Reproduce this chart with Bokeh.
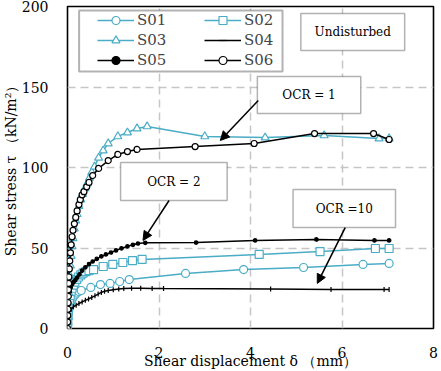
from bokeh.plotting import figure
from bokeh.models import (Legend, LegendItem, BoxAnnotation, Label, Arrow,
                          NormalHead, Range1d, FixedTicker, Title)
from bokeh.embed import file_html
from bokeh.resources import INLINE

# Shear displacement (mm) and shear stress (kN/m2) of each specimen
s01_x = [0, 0.005, 0.01, 0.02, 0.03, 0.04, 0.06, 0.08, 0.1, 0.13, 0.16, 0.2, 0.25, 0.30,
         0.51, 0.72, 0.93, 1.14, 1.35, 2.58, 3.85, 5.16, 6.46, 7.03]
s01_y = [0, 3, 6, 9, 11.5, 13.5, 15.5, 17, 18.3, 19.6, 20.8, 22, 23, 23.6,
         25.5, 27.3, 28, 29.2, 30.4, 34.2, 36.6, 37.9, 39.8, 40.4]

s02_x = [0, 0.005, 0.01, 0.02, 0.03, 0.04, 0.06, 0.08, 0.1, 0.13, 0.16, 0.2, 0.24, 0.29,
         0.34, 0.4, 0.47, 0.57, 0.78, 0.99, 1.21, 1.42, 1.63, 4.19, 5.52, 6.73, 7.03]
s02_y = [0, 4, 8, 12, 15, 17.5, 20.5, 23, 25, 27, 28.8, 30.5, 32, 33.3,
         34.4, 35.3, 36, 36.6, 38.5, 39.8, 41, 42.2, 42.9, 46, 47.8, 49.7, 49.7]

s03_x = [0, 0.005, 0.01, 0.015, 0.02, 0.03, 0.04, 0.05, 0.065, 0.08, 0.1, 0.12, 0.15, 0.18,
         0.21, 0.25, 0.29, 0.33, 0.38, 0.43, 0.48, 0.53, 0.59, 0.68, 0.78, 0.89, 1.10,
         1.31, 1.52, 1.74, 3.0, 4.32, 5.61, 6.81, 7.03]
s03_y = [0, 4, 8, 12, 16, 22, 28, 33, 39, 45, 51, 56, 62, 67,
         71, 76, 80, 83.5, 87, 90, 93.5, 97, 100.5, 106, 110.5, 114.9, 119.3,
         121.7, 124.2, 125.5, 119.3, 118.6, 119.9, 118, 118]

s04_x = [0, 0.005, 0.01, 0.02, 0.04, 0.08, 0.13, 0.19, 0.25, 0.32, 0.39, 0.46, 0.53, 0.6,
         0.67, 0.74, 0.81, 0.89, 1.0, 1.12, 1.23, 1.4, 1.6, 1.85, 2.1, 4.44, 5.76, 6.92, 7.03]
s04_y = [0, 3, 5, 7, 10, 12, 13.5, 14.5, 15.5, 16.5, 17.5, 18.3, 19.3, 20.3,
         21.4, 22.4, 23.2, 23.6, 24.1, 24.5, 24.8, 25, 25, 24.9, 24.8, 24.5, 24.3, 24.2, 24.2]

s05_x = [0, 0.005, 0.01, 0.02, 0.035, 0.05, 0.07, 0.1, 0.13, 0.17, 0.21, 0.26, 0.32, 0.39,
         0.47, 0.55, 0.64, 0.74, 0.84, 0.95, 1.06, 1.18, 1.31, 1.43, 1.54, 1.7, 2.81, 4.1,
         5.44, 6.71, 7.03]
s05_y = [0, 6, 11, 16, 20, 23, 25.5, 27.5, 28.8, 30, 31.6, 33.6, 36, 38,
         40, 41.6, 43.2, 44.8, 46, 47.2, 48.5, 49.8, 51, 52, 52.8, 53.2, 53.4, 54.7,
         55.3, 54.7, 54.7]

s06_x = [0, 0.003, 0.006, 0.01, 0.013, 0.017, 0.02, 0.025, 0.03, 0.04, 0.05, 0.065, 0.08,
         0.1, 0.12, 0.15, 0.18, 0.21, 0.25, 0.28, 0.32, 0.36, 0.42, 0.47, 0.55, 0.68, 0.89,
         1.10, 1.31, 1.52, 2.79, 4.08, 5.40, 6.69, 7.03]
s06_y = [0, 4, 8, 12, 16, 20, 24, 28, 32, 37, 42, 47, 52,
         57, 61, 65, 69, 73, 77, 80, 83, 85, 88, 90.7, 95, 99.4, 104.3,
         108.1, 109.9, 111.2, 113, 114.9, 121.1, 121.1, 117.4]

x_ticks = [0, 2, 4, 6, 8]
y_ticks = [0, 50, 100, 150, 200]

BLUE = "#4bacc6"
SERIF = "DejaVu Serif"

p = figure(width=441, height=371, x_range=Range1d(0, 8), y_range=Range1d(0, 200),
           output_backend="svg", toolbar_location=None,
           min_border_left=55, min_border_right=8, min_border_top=6, min_border_bottom=43,
           x_axis_label="Shear displacement δ （mm）")
p.background_fill_color = "white"
p.border_fill_color = "white"
p.outline_line_color = "black"
p.outline_line_width = 1.6

p.xaxis.ticker = FixedTicker(ticks=x_ticks)
p.yaxis.ticker = FixedTicker(ticks=y_ticks)
for ax in (p.xaxis[0], p.yaxis[0]):
    ax.axis_line_color = None
    ax.major_tick_line_color = None
    ax.minor_tick_line_color = None
    ax.major_label_text_font = SERIF
    ax.major_label_text_font_size = "14px"
    ax.major_label_text_color = "black"
    ax.axis_label_text_font = SERIF
    ax.axis_label_text_font_size = "14px"
    ax.axis_label_text_font_style = "normal"
    ax.axis_label_text_color = "black"
p.xaxis.major_label_standoff = 12
p.xaxis.axis_label_standoff = -8
p.yaxis.major_label_standoff = 13

# vertical title on the outer left side
p.add_layout(Title(text="Shear stress τ （kN/m²）", align="center", standoff=0,
                   text_font=SERIF, text_font_size="14px", text_font_style="normal",
                   text_color="black", text_line_height=1.0), "left")

for g in (p.xgrid[0], p.ygrid[0]):
    g.grid_line_color = "#c6c6c6"
    g.grid_line_width = 1.5
    g.grid_line_dash = "8 5"

items = []

def series(xs, ys, name, color, marker, size, fill, angle=0.0, lw=1.5):
    ln = p.line(xs, ys, line_color=color, line_width=lw)
    mk = p.scatter(xs, ys, marker=marker, size=size, fill_color=fill,
                   line_color=color, line_width=1.2, angle=angle)
    items.append(LegendItem(label=name, renderers=[ln, mk]))

series(s01_x, s01_y, "S01", BLUE, "circle", 8, "white")
series(s02_x, s02_y, "S02", BLUE, "square", 8, "white")
series(s03_x, s03_y, "S03", BLUE, "triangle", 8, "white")
series(s04_x, s04_y, "S04", "black", "dash", 5, "black", angle=1.5708)
series(s05_x, s05_y, "S05", "black", "circle", 3.5, "black")
series(s06_x, s06_y, "S06", "black", "circle", 6, "white")

# legend frame
p.add_layout(BoxAnnotation(left=0.254, right=4.70, bottom=159.6, top=197.5,
                           fill_color="white", fill_alpha=1.0,
                           line_color="black", line_width=2))
legend = Legend(items=items, orientation="horizontal", nrows=3,
                location=(30, 258), padding=0, margin=0, spacing=0,
                glyph_width=37, glyph_height=20, label_standoff=3, label_width=67,
                label_text_font=SERIF, label_text_font_size="15px",
                background_fill_alpha=0, border_line_alpha=0)
p.add_layout(legend)

# annotation boxes with arrows
def note(text, left, right, bottom, top):
    p.add_layout(BoxAnnotation(left=left, right=right, bottom=bottom, top=top,
                               fill_color="white", fill_alpha=1.0,
                               line_color="black", line_width=1.5))
    p.add_layout(Label(x=(left + right) / 2, y=(bottom + top) / 2, text=text,
                       text_align="center", text_baseline="middle",
                       text_font=SERIF, text_font_size="12px", text_color="black"))

note("Undisturbed", 5.10, 7.37, 172.7, 195.7)
note("OCR = 1", 4.15, 6.41, 133.5, 156.5)
note("OCR = 2", 1.16, 3.49, 79.5, 103.1)
note("OCR =10", 4.93, 7.17, 62.7, 86.3)

for xs, ys, xe, ye in [(4.17, 141.6, 3.34, 116.8),
                       (2.22, 79.5, 1.65, 54.7),
                       (6.07, 62.7, 5.46, 28.0)]:
    p.add_layout(Arrow(x_start=xs, y_start=ys, x_end=xe, y_end=ye, line_width=1.5,
                       line_color="black",
                       end=NormalHead(size=9, fill_color="black", line_color="black")))

open("out.html", "w").write(file_html(p, INLINE))
